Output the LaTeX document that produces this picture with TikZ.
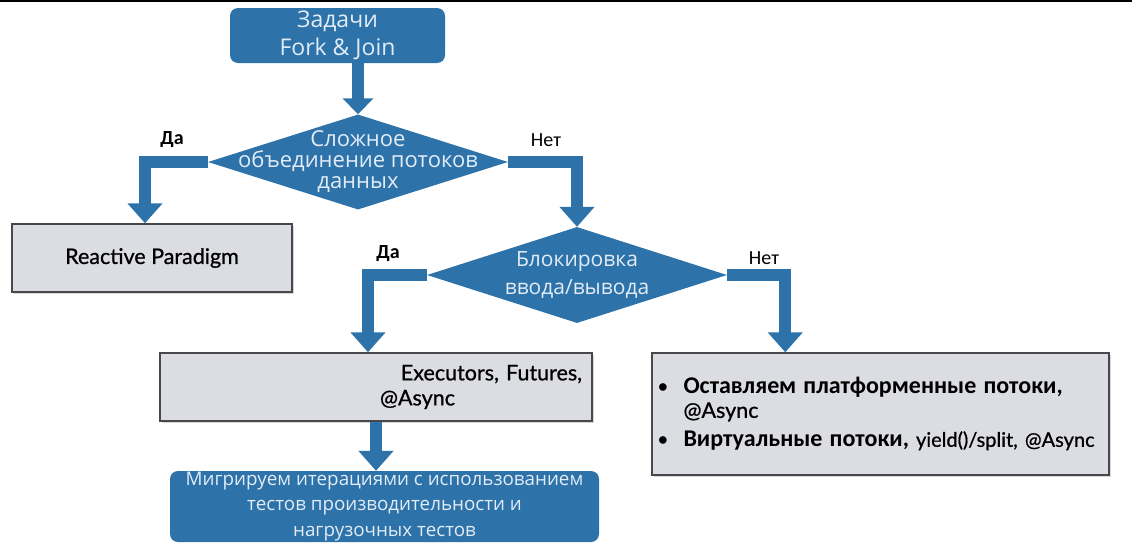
\documentclass[tikz,border=0pt]{standalone}
\usepackage{fontspec}
\setmainfont{Open Sans}
\newfontfamily\labelfont{Carlito}
\newfontfamily\gillfont{Lato}[FakeBold=0.8]
\usetikzlibrary{shapes.geometric, arrows.meta, positioning, shadows}
\definecolor{flowblue}{RGB}{45,114,168}
\definecolor{flowtext}{RGB}{226,236,247}
\definecolor{boxgray}{RGB}{220,221,226}
\definecolor{boxedge}{RGB}{72,72,76}
\newcommand{\bulletbold}[1]{{\labelfont\bfseries\fontsize{24}{24}\selectfont #1}}
\tikzset{
  bluebox/.style={rectangle, fill=flowblue, text=flowtext, rounded corners=8pt,
    inner sep=0pt, align=center},
  decision/.style={diamond, fill=flowblue, inner sep=0pt},
  dtext/.style={text=flowtext, align=center, inner sep=0pt},
  grayblock/.style={rectangle, draw=boxedge, fill=boxgray, line width=1.5pt,
    inner sep=0pt, drop shadow={shadow xshift=1.5pt, shadow yshift=-1.5pt, opacity=0.3}},
  flowarrow/.style={draw=flowblue, line width=12pt, -{Triangle[length=20pt, width=34pt]}},
  answer/.style={font=\labelfont\fontsize{20}{24}\selectfont}
}

\begin{document}
\begin{tikzpicture}[x=1pt, y=-1pt]
    \useasboundingbox (0,0) rectangle (1132,554);
    \fill[white] (0,0) rectangle (1132,554);
    \draw[line width=2pt] (0,1) -- (1132,1);

    % Start and questions
    \node[bluebox, minimum width=215pt, minimum height=55pt,
      font=\fontsize{23}{28}\selectfont] (task) at (337.5,35.5) {Задачи\\Fork \& Join};
    \node[decision, minimum width=300pt, minimum height=95pt] (cond1) at (358,162) {};
    \node[dtext, font=\fontsize{22}{21}\selectfont] (cond1txt) at (cond1.center)
      {Сложное\\объединение потоков\\данных};
    \node[decision, minimum width=300pt, minimum height=96pt] (cond2) at (577,275) {};
    \node[dtext, font=\fontsize{21}{28}\selectfont] (cond2txt) at (cond2.center)
      {Блокировка\\ввода/вывода};

    % Answers
    \node[grayblock, minimum width=280pt, minimum height=68pt,
      font=\gillfont\fontsize{21.5}{26}\selectfont] (reactive) at (152,258) {Reactive Paradigm};
    \node[grayblock, minimum width=432pt, minimum height=68pt, text width=412pt, align=left,
      font=\gillfont\fontsize{21.5}{25}\selectfont] (exec) at (376,387)
      {\hspace*{\fill}Executors, Futures,\\\hspace*{210pt}@Async};
    \node[grayblock, minimum width=457pt, minimum height=122pt, text width=452pt, align=left,
      font=\gillfont\fontsize{21.5}{24}\selectfont] (platform) at (880.5,414)
      {\mbox{\makebox[29pt][l]{\hspace*{3pt}\labelfont•}\bulletbold{Оставляем платформенные потоки,}}\\
       \hspace*{29pt}@Async\\[5pt]
       \mbox{\makebox[29pt][l]{\hspace*{3pt}\labelfont•}\bulletbold{Виртуальные потоки,}
         {\fontsize{20}{24}\selectfont yield()/split, @Async}}};
    \node[bluebox, minimum width=429pt, minimum height=71pt,
      font=\fontsize{18.8}{25.5}\selectfont] (migrate) at (384.5,506.5)
      {Мигрируем итерациями с использованием\\тестов производительности и\\нагрузочных тестов};

    % Labels
    \node[answer, font=\labelfont\bfseries\fontsize{20}{24}\selectfont] (yes1) at (172,140) {Да};
    \node[answer] (no1) at (546,140) {Нет};
    \node[answer, font=\labelfont\bfseries\fontsize{20}{24}\selectfont] (yes2) at (388,254) {Да};
    \node[answer] (no2) at (764,258) {Нет};

    % Arrows
    \draw[flowarrow, -{Triangle[length=16pt, width=30pt]}] (task.south -| cond1.north) -- (cond1.north);
    \draw[flowarrow] (cond1.west) -| ([xshift=-7pt]reactive.north);
    \draw[flowarrow] (cond1.east) -| (cond2.north);
    \draw[flowarrow] (cond2.west) -| ([xshift=-8pt]exec.north);
    \draw[flowarrow] (cond2.east) -| ([xshift=134pt]platform.north west);
    \draw[flowarrow] (exec.south) -- (exec.south |- migrate.north);
\end{tikzpicture}
\end{document}
